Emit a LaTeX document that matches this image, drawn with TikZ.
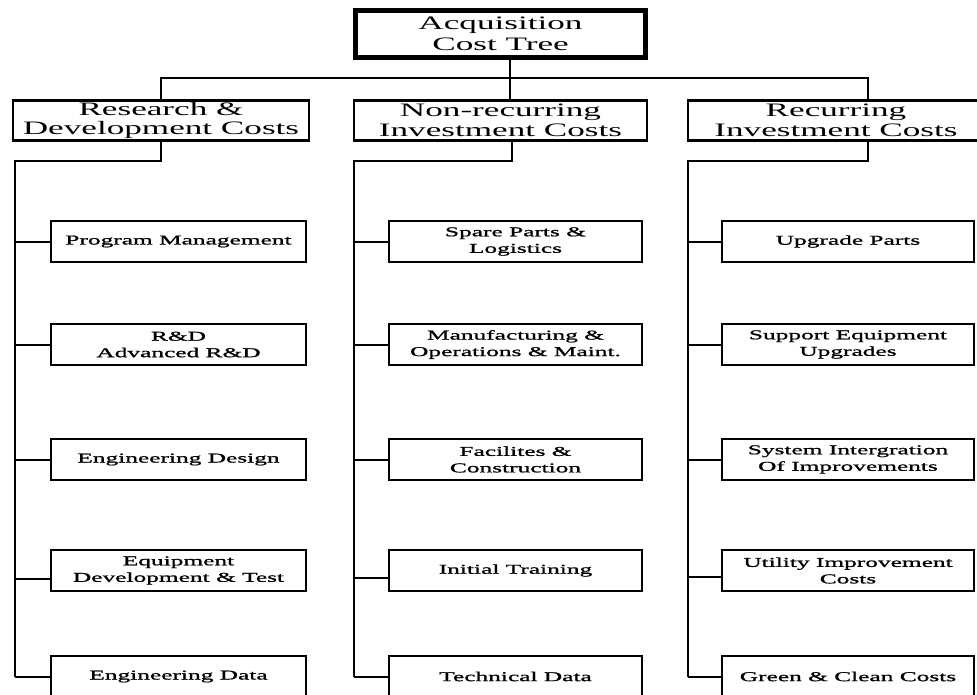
\documentclass[tikz,border=0pt]{standalone}
\usepackage{fontspec}
\usetikzlibrary{calc}
\newfontfamily\wideserif[FakeStretch=1.85]{Liberation Serif}
\newfontfamily\wideserifbold[FakeStretch=1.88,FakeBold=1.2]{Liberation Serif}
\tikzset{
  ln/.style={line width=2pt, line join=miter},
  topbox/.style={draw, line width=5pt, inner sep=0pt, align=center,
    minimum width=290pt, minimum height=47pt,
    font=\wideserif\fontsize{19}{21}\selectfont},
  catbox/.style={draw, line width=2.2pt, inner sep=0pt, align=center,
    minimum height=40pt,
    font=\wideserif\fontsize{19}{19.5}\selectfont},
  itembox/.style={draw, line width=2.4pt, inner sep=0pt, align=center,
    minimum height=41pt,
    font=\wideserifbold\fontsize{13.5}{16.5}\selectfont},
}
\begin{document}
\begin{tikzpicture}[x=1pt, y=-1pt]
\clip (0,0) rectangle (977,695);
\fill[white] (0,0) rectangle (977,695);

% top
\node[topbox] (top) at (500.5,34) {Acquisition\\Cost Tree};

% level 2
\node[catbox, minimum width=296pt] (rd) at (161,120.5) {Research \&\\Development Costs};
\node[catbox, minimum width=293pt] (nr) at (500.5,120.5) {Non-recurring\\Investment Costs};
\node[catbox, minimum width=296pt] (rc) at (836,120.5) {Recurring\\Investment Costs};

% connectors level 1 -> 2
\coordinate (bar) at (510,78);
\coordinate (rcx) at (868,100);
\draw[ln] (top.south -| bar) -- (bar);
\draw[ln] (rd.north) |- (bar -| rcx) -- (rc.north -| rcx);
\draw[ln] (bar) -- (nr.north -| bar);

% children: left column
\node[itembox, minimum width=255pt] (l1) at (178.5,241.5) {Program Management};
\node[itembox, minimum width=255pt] (l2) at (178.5,344.5) {R\&D\\Advanced R\&D};
\node[itembox, minimum width=255pt] (l3) at (178.5,459.5) {Engineering Design};
\node[itembox, minimum width=255pt] (l4) at (178.5,570.5) {Equipment\\Development \& Test};
\node[itembox, minimum width=255pt] (l5) at (178.5,676.5) {Engineering Data};

% children: middle column
\node[itembox, minimum width=253pt] (m1) at (515.5,241.5) {Spare Parts \&\\Logistics};
\node[itembox, minimum width=253pt] (m2) at (515.5,344.5) {Manufacturing \&\\Operations \& Maint.};
\node[itembox, minimum width=253pt] (m3) at (515.5,459.5) {Facilites \&\\Construction};
\node[itembox, minimum width=253pt] (m4) at (515.5,570.5) {Initial Training};
\node[itembox, minimum width=253pt] (m5) at (515.5,676.5) {Technical Data};

% children: right column
\node[itembox, minimum width=252pt] (r1) at (848,241.5) {Upgrade Parts};
\node[itembox, minimum width=252pt] (r2) at (848,344.5) {Support Equipment\\Upgrades};
\node[itembox, minimum width=252pt] (r3) at (848,459.5) {System Intergration\\Of Improvements};
\node[itembox, minimum width=252pt] (r4) at (848,570.5) {Utility Improvement\\Costs};
\node[itembox, minimum width=252pt] (r5) at (848,676.5) {Green \& Clean Costs};

% trunks
\coordinate (Lt) at (15,161);
\coordinate (Mt) at (354,161);
\coordinate (Rt) at (688,161);
\coordinate (Mx) at (512,141);
\draw[ln] (rd.south) |- (Lt) -- (Lt |- l5.west);
\draw[ln] (nr.south -| Mx) |- (Mt) -- (Mt |- m5.west);
\draw[ln] (rc.south -| rcx) |- (Rt) -- (Rt |- r5.west);

% branches
\foreach \c in {1,2,3,5} {
  \draw[ln] (Lt |- l\c.west) -- (l\c.west);
  \draw[ln] (Mt |- m\c.west) -- (m\c.west);
  \draw[ln] (Rt |- r\c.west) -- (r\c.west);
}
\coordinate (l4w) at ([yshift=-8pt]l4.west);
\coordinate (m4w) at ([yshift=-7pt]m4.west);
\coordinate (r4w) at ([yshift=-6pt]r4.west);
\draw[ln] (Lt |- l4w) -- (l4w);
\draw[ln] (Mt |- m4w) -- (m4w);
\draw[ln] (Rt |- r4w) -- (r4w);
\end{tikzpicture}
\end{document}
